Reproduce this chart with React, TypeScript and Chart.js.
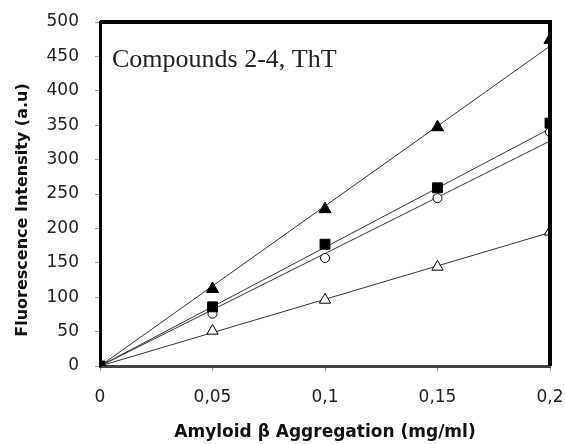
import React, { useEffect, useRef } from "react";
import { Chart, registerables } from "chart.js";

Chart.register(...registerables);

const xValues = [0, 0.05, 0.1, 0.15, 0.2];
const filledTriangle = [0, 112, 228, 347, 474];
const filledSquare = [0, 86, 177, 259, 353];
const openCircle = [0, 76, 157, 244, 340];
const openTriangle = [0, 51, 96, 144, 195];

const trendX = [0, 0.2];
const trendFilledTriangle = [0, 465];
const trendFilledSquare = [0, 345];
const trendOpenCircle = [0, 327];
const trendOpenTriangle = [0, 194];

const annotationText = "Compounds 2-4, ThT";
const xTitle = "Amyloid β Aggregation (mg/ml)";
const yTitle = "Fluorescence Intensity (a.u)";

const pts = (xs: number[], ys: number[]) => xs.map((x, i) => ({ x, y: ys[i] }));

const framePlugin = {
  id: "frame",
  afterDatasetsDraw(chart: any) {
    const { ctx, chartArea } = chart;
    ctx.save();
    ctx.strokeStyle = "#000";
    ctx.lineWidth = 4;
    ctx.beginPath();
    ctx.moveTo(chartArea.left, chartArea.top);
    ctx.lineTo(chartArea.right, chartArea.top);
    ctx.lineTo(chartArea.right, chartArea.bottom);
    ctx.stroke();
    ctx.font = "26px 'Liberation Serif'";
    ctx.fillStyle = "#222";
    ctx.textBaseline = "alphabetic";
    ctx.fillText(annotationText, chartArea.left + 12, chartArea.top + 45);
    // y axis title
    ctx.translate(23, (chartArea.top + chartArea.bottom) / 2 + 16);
    ctx.rotate(-Math.PI / 2);
    ctx.font = "bold 16px 'DejaVu Sans'";
    ctx.fillStyle = "#111";
    ctx.textAlign = "center";
    ctx.textBaseline = "middle";
    ctx.fillText(yTitle, 0, 0);
    ctx.restore();
  },
};

export default function App() {
  const ref = useRef<HTMLCanvasElement>(null);
  useEffect(() => {
    document.body.style.margin = "0";
    const trendStyle = {
      type: "line" as const,
      showLine: true,
      borderColor: "#333",
      borderWidth: 1,
      pointRadius: 0,
      fill: false,
      order: 10,
    };
    const markerStyle = {
      type: "scatter" as const,
      showLine: false,
      borderColor: "#000",
      borderWidth: 1,
    };
    const chart = new Chart(ref.current!, {
      type: "scatter",
      data: {
        datasets: [
          { ...trendStyle, data: pts(trendX, trendFilledTriangle) },
          { ...trendStyle, data: pts(trendX, trendFilledSquare) },
          { ...trendStyle, data: pts(trendX, trendOpenCircle) },
          { ...trendStyle, data: pts(trendX, trendOpenTriangle) },
          { ...markerStyle, data: pts(xValues, openTriangle), pointStyle: "triangle", pointRadius: 6.5, backgroundColor: "#fff", order: 3 },
          { ...markerStyle, data: pts(xValues, openCircle), pointStyle: "circle", pointRadius: 4.5, backgroundColor: "#fff", order: 2 },
          { ...markerStyle, data: pts(xValues, filledTriangle), pointStyle: "triangle", pointRadius: 7, backgroundColor: "#000", order: 1 },
          { ...markerStyle, data: pts(xValues, filledSquare), pointStyle: "rect", pointRadius: 7, backgroundColor: "#000", order: 0 },
        ] as any,
      },
      options: {
        animation: false,
        responsive: false,
        layout: { padding: { left: 0, top: 22, right: 15, bottom: 0 } },
        plugins: { legend: { display: false }, tooltip: { enabled: false } },
        scales: {
          x: {
            type: "linear",
            min: 0,
            max: 0.2,
            afterFit: (s: any) => { s.height = 78; s.paddingLeft = 0; s.paddingRight = 0; },
            ticks: {
              stepSize: 0.05,
              padding: 16,
              color: "#222",
              font: { family: "'DejaVu Sans'", size: 17 },
              callback: (v: any) => String(Math.round(Number(v) * 100) / 100).replace(".", ","),
            },
            grid: { drawOnChartArea: false, drawTicks: true, tickLength: 5, color: "#999" },
            border: { display: true, color: "#444", width: 3 },
            title: {
              display: true,
              text: xTitle,
              color: "#111",
              font: { family: "'DejaVu Sans'", size: 17, weight: "bold" },
              padding: { top: 0, bottom: 1 },
            },
          },
          y: {
            type: "linear",
            min: 0,
            max: 500,
            afterFit: (s: any) => { s.width = 100; s.paddingTop = 0; s.paddingBottom = 0; },
            ticks: {
              stepSize: 50,
              padding: 16,
              color: "#222",
              font: { family: "'DejaVu Sans'", size: 17 },
            },
            grid: { drawOnChartArea: false, drawTicks: true, tickLength: 5, color: "#999" },
            border: { display: true, color: "#000", width: 3 },
            title: { display: false },
          },
        },
      },
      plugins: [framePlugin],
    });
    return () => chart.destroy();
  }, []);
  return (
    <div style={{ position: "fixed", left: 0, top: 0, width: 565, height: 444, background: "#fff" }}>
      <canvas ref={ref} width={565} height={444} style={{ width: 565, height: 444 }} />
    </div>
  );
}
